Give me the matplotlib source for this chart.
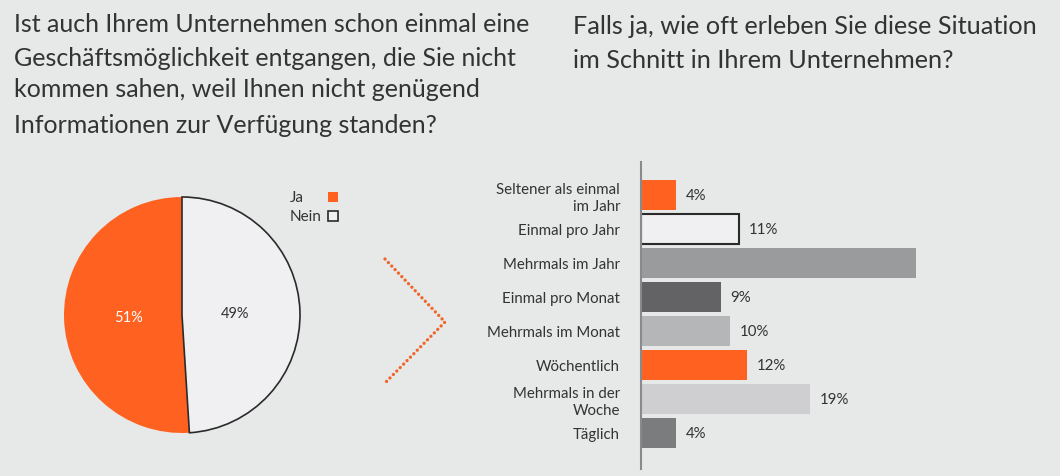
import matplotlib
matplotlib.use("Agg")
import matplotlib.pyplot as plt
import numpy as np
from matplotlib.patches import Rectangle
from matplotlib.lines import Line2D

plt.rcParams['font.family'] = ['Lato', 'DejaVu Sans']

# Daten
pie_labels = ['Ja', 'Nein']
pie_values = [51, 49]
pie_colors = ['#ff6220', '#f0f0f2']

kategorien = ['Seltener als einmal\nim Jahr', 'Einmal pro Jahr', 'Mehrmals im Jahr',
              'Einmal pro Monat', 'Mehrmals im Monat', 'Wöchentlich',
              'Mehrmals in der\nWoche', 'Täglich']
werte = [4, 11, 31, 9, 10, 12, 19, 4]
wert_labels = ['4%', '11%', '', '9%', '10%', '12%', '19%', '4%']
bar_farben = ['#ff6220', '#f0f0f2', '#9a9b9d', '#636366', '#b5b6b8', '#ff6220', '#cfcfd1', '#7b7c7e']

bg = '#e6e9e7'
textfarbe = '#333333'
W, H = 1060, 477

fig = plt.figure(figsize=(10.6, 4.77), dpi=100, facecolor=bg)

# Titel
titel_links = ['Ist auch Ihrem Unternehmen schon einmal eine',
               'Geschäftsmöglichkeit entgangen, die Sie nicht',
               'kommen sahen, weil Ihnen nicht genügend',
               'Informationen zur Verfügung standen?']
for txt, y in zip(titel_links, [24, 58, 90, 126]):
    fig.text(14 / W, 1 - y / H, txt, fontsize=18, color=textfarbe, va='center', ha='left')
titel_rechts = ['Falls ja, wie oft erleben Sie diese Situation',
                'im Schnitt in Ihrem Unternehmen?']
for txt, y in zip(titel_rechts, [26, 61]):
    fig.text(573 / W, 1 - y / H, txt, fontsize=18.2, color=textfarbe, va='center', ha='left')

# Tortendiagramm
ax1 = fig.add_axes([64 / W, (H - 434) / H, 236 / W, 236 / H])
wedges, texts, autotexts = ax1.pie(pie_values, colors=pie_colors, startangle=90, counterclock=True,
                                   autopct='%d%%', pctdistance=0.45,
                                   textprops={'fontsize': 10.5})
wedges[0].set_edgecolor('none')
wedges[1].set_edgecolor('#2a2a2a')
wedges[1].set_linewidth(1.2)
autotexts[0].set_color('white')
autotexts[1].set_color(textfarbe)
ax1.set_xlim(-1.0, 1.0)
ax1.set_ylim(-1.0, 1.0)
ax1.set_aspect('equal')

# Legende (Text links, Kästchen rechts)
kanten = ['none', '#2a2a2a']
for lab, farbe, kante, y in zip(pie_labels, pie_colors, kanten, [198, 217]):
    fig.text(290 / W, 1 - y / H, lab, fontsize=11, color=textfarbe, va='center', ha='left')
    fig.add_artist(Rectangle((328 / W, 1 - (y + 5) / H), 10 / W, 10 / H,
                             transform=fig.transFigure, facecolor=farbe,
                             edgecolor=kante, linewidth=1.2))

# Pfeil (gepunktet)
fig.add_artist(Line2D([385 / W, 445 / W, 386 / W], [1 - 260 / H, 1 - 323 / H, 1 - 383 / H],
                      transform=fig.transFigure, color='#f0652a', linewidth=2.4,
                      linestyle=(0, (0.01, 1.45)), dash_capstyle='round', solid_capstyle='round'))

# Balkendiagramm
ax2 = fig.add_axes([641 / W, (H - 470) / H, (1050 - 641) / W, 307 / H])
ax2.set_facecolor(bg)
y = np.arange(len(kategorien))
bars = ax2.barh(y, werte, height=0.88, color=bar_farben)
bars[1].set_edgecolor('#2a2a2a')
bars[1].set_linewidth(1.5)
for b, lab in zip(bars, wert_labels):
    if lab:
        ax2.text(b.get_width() + 1.1, b.get_y() + b.get_height() / 2, lab,
                 va='center', ha='left', fontsize=10.8, color=textfarbe)
ax2.set_xlim(0, (1050 - 641) / 8.87)
ax2.set_ylim(8.06, -0.97)
ax2.set_yticks(y)
ax2.set_yticklabels(kategorien, fontsize=10.8, color=textfarbe, linespacing=1.25)
ax2.tick_params(axis='y', length=0, pad=15)
ax2.set_xticks([])
for s in ['top', 'right', 'bottom']:
    ax2.spines[s].set_visible(False)
ax2.spines['left'].set_color('#8a8a8a')
ax2.spines['left'].set_linewidth(1.5)

fig.savefig('out.png', dpi=100, facecolor=bg)
